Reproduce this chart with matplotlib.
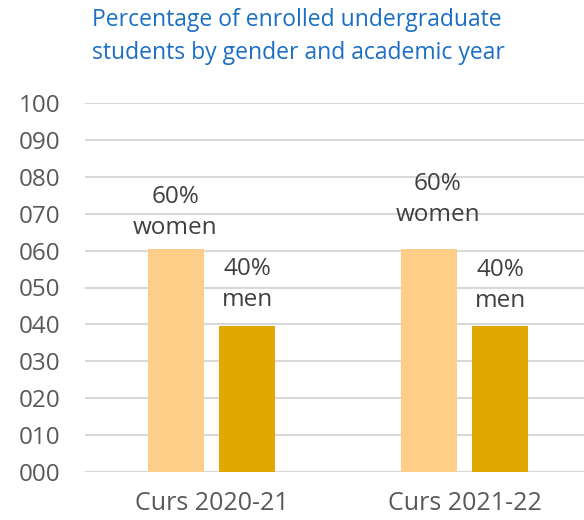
import matplotlib.pyplot as plt
import numpy as np

plt.rcParams['font.family'] = ['Open Sans', 'DejaVu Sans']

# data
years = ["Curs 2020-21", "Curs 2021-22"]
women = [60.4, 60.4]
men = [39.6, 39.6]
women_pct = ["60%", "60%"]
men_pct = ["40%", "40%"]
y_ticks = [0, 10, 20, 30, 40, 50, 60, 70, 80, 90, 100]
y_ticklabels = ["000", "010", "020", "030", "040", "050", "060", "070", "080", "090", "100"]

# label offsets in points (dx, dy of the word baseline above the bar top)
women_off = [(-0.5, 10.8), (6.5, 20.2)]
men_off = [(0, 14.0), (0, 13.5)]
LINE = 22.7  # baseline distance between "60%" and "women"

W, H = 584, 520
fig = plt.figure(figsize=(W / 100, H / 100), dpi=100)
ax = fig.add_axes([85 / W, (H - 472) / H, 1 - 85 / W, (472 - 103) / H])

x = np.arange(len(years))
bw = 0.22
off = 0.141
ax.bar(x - off, women, bw, color="#FDCE87", zorder=3)
ax.bar(x + off, men, bw, color="#E0A800", zorder=3)

txt = dict(textcoords="offset points", ha="center", va="baseline",
           fontsize=17.5, color="#404040")
for i in range(len(years)):
    dx, dy = women_off[i]
    ax.annotate("women", (x[i] - off, women[i]), xytext=(dx, dy), **txt)
    ax.annotate(women_pct[i], (x[i] - off, women[i]), xytext=(dx, dy + LINE), **txt)
    dx, dy = men_off[i]
    ax.annotate("men", (x[i] + off, men[i]), xytext=(dx, dy), **txt)
    ax.annotate(men_pct[i], (x[i] + off, men[i]), xytext=(dx, dy + LINE), **txt)

ax.set_xlim(-0.5, 1.472)
ax.set_ylim(0, 100)
ax.set_yticks(y_ticks)
ax.set_yticklabels(y_ticklabels)
ax.set_xticks(x)
ax.set_xticklabels(years)
ax.tick_params(axis="y", length=0, pad=18, labelsize=17.5, labelcolor="#595959")
ax.tick_params(axis="x", length=0, pad=14, labelsize=18, labelcolor="#595959")
ax.grid(axis="y", color="#D9D9D9", linewidth=1.5, zorder=0)
for s in ax.spines.values():
    s.set_visible(False)

title_lines = ["Percentage of enrolled undergraduate", "students by gender and academic year"]
fig.text(92 / W, 1 - 20 / H, title_lines[0], ha="left", va="center",
         fontsize=16.5, color="#1A6FC4")
fig.text(92 / W, 1 - 53 / H, title_lines[1], ha="left", va="center",
         fontsize=16.5, color="#1A6FC4")

fig.savefig("out.png", dpi=100)
